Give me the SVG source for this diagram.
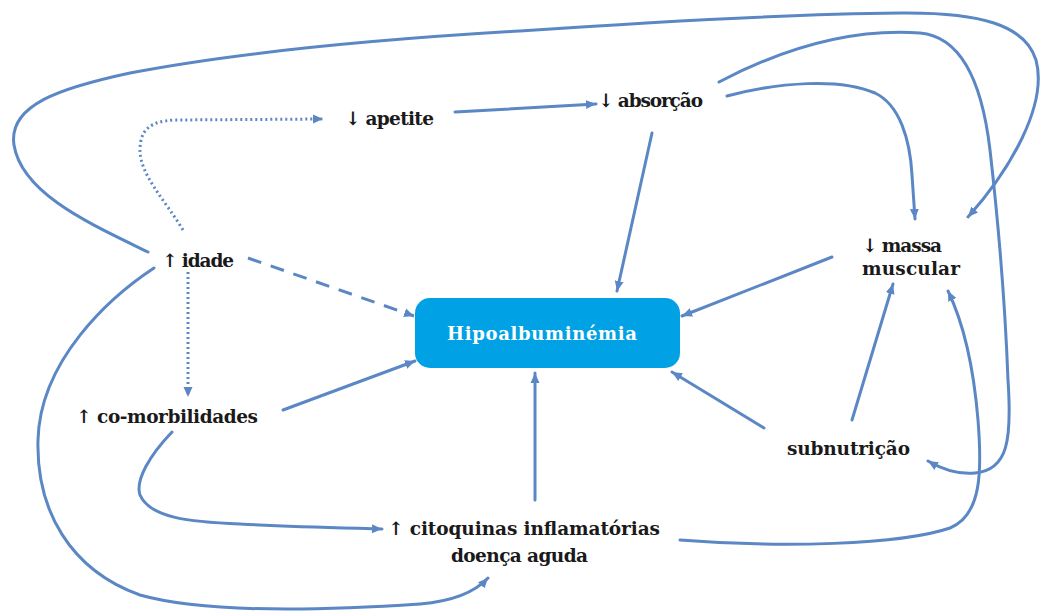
<svg xmlns="http://www.w3.org/2000/svg" width="1043" height="611" viewBox="0 0 1043 611">
<style>
.c{fill:none;stroke:#5b87c5;stroke-width:3;stroke-linecap:round}
.ar{marker-end:url(#ah)}
.dot{stroke-dasharray:2 3;stroke-linecap:butt}
.dash{stroke-dasharray:14 10;stroke-linecap:butt}
text{font-family:"DejaVu Serif","Liberation Serif",serif;font-weight:bold;font-size:18.5px;fill:#1a1a1a}
.hl{fill:#ffffff;font-size:18px}
</style>
<defs>
<marker id="ah" markerUnits="userSpaceOnUse" markerWidth="11" markerHeight="10" refX="10" refY="5" orient="auto">
<path d="M0,0.5 L10,5 L0,9.5 z" fill="#5b87c5"/>
</marker>
</defs>
<rect width="1043" height="611" fill="#ffffff"/>
<g id="connectors">
<path class="c ar" d="M148,252 C95,226 22,195 14,145 C8,105 60,88 130,73 C250,50 400,38 520,31 C650,22 800,14 900,13 C980,12 1025,25 1036,60 C1048,105 1010,170 968,217"/>
<path class="c ar" d="M719,82 C780,50 850,28 920,33 C965,37 983,90 990,150 C998,220 1005,300 1008,380 C1012,440 1008,470 975,473 C955,475 940,468 928,461"/>
<path class="c ar" d="M727,96 C780,82 840,78 875,93 C900,105 910,140 912,175 L915,219"/>
<path class="c ar" d="M455,112 L596,104"/>
<path class="c ar dot" d="M183,230 C165,200 140,175 140,150 C140,130 150,121 175,120 L323,119"/>
<path class="c ar dash" d="M248,258 L414,316"/>
<path class="c ar dot" d="M188,272 L188,397"/>
<path class="c ar" d="M652,133 L617,291"/>
<path class="c ar" d="M832,257 L682,316"/>
<path class="c ar" d="M283,410 L415,361"/>
<path class="c ar" d="M172,432 C150,455 135,480 140,495 C150,518 190,522 240,524 C300,527 350,528 382,529"/>
<path class="c ar" d="M154,268 C110,297 40,360 38,440 C36,510 70,570 140,595 C200,612 300,612 420,604 C455,601 475,592 488,578"/>
<path class="c ar" d="M535,500 L535,373"/>
<path class="c ar" d="M764,428 L672,372"/>
<path class="c ar" d="M852,420 L893,284"/>
<path class="c ar" d="M680,540 C780,548 900,545 950,528 C982,515 982,470 978,420 C973,360 962,320 948,291"/>
</g>
<g id="hipoalbuminemia">
<rect x="415" y="298" width="265" height="70" rx="15" fill="#00a2e5"/>
<text class="hl" x="447" y="340" textLength="190">Hipoalbuminémia</text>
</g>
<g id="apetite"><text x="345" y="125" textLength="89">↓ apetite</text></g>
<g id="absorcao"><text x="598" y="107" textLength="105">↓ absorção</text></g>
<g id="idade"><text x="162" y="267" textLength="72">↑ idade</text></g>
<g id="massa-muscular"><text x="862" y="252" textLength="80">↓ massa</text><text x="862" y="275" textLength="98">muscular</text></g>
<g id="co-morbilidades"><text x="76" y="423" textLength="182">↑ co-morbilidades</text></g>
<g id="citoquinas"><text x="388" y="535" textLength="272">↑ citoquinas inflamatórias</text><text x="451" y="562" textLength="137">doença aguda</text></g>
<g id="subnutricao"><text x="787" y="455" textLength="123">subnutrição</text></g>
</svg>
